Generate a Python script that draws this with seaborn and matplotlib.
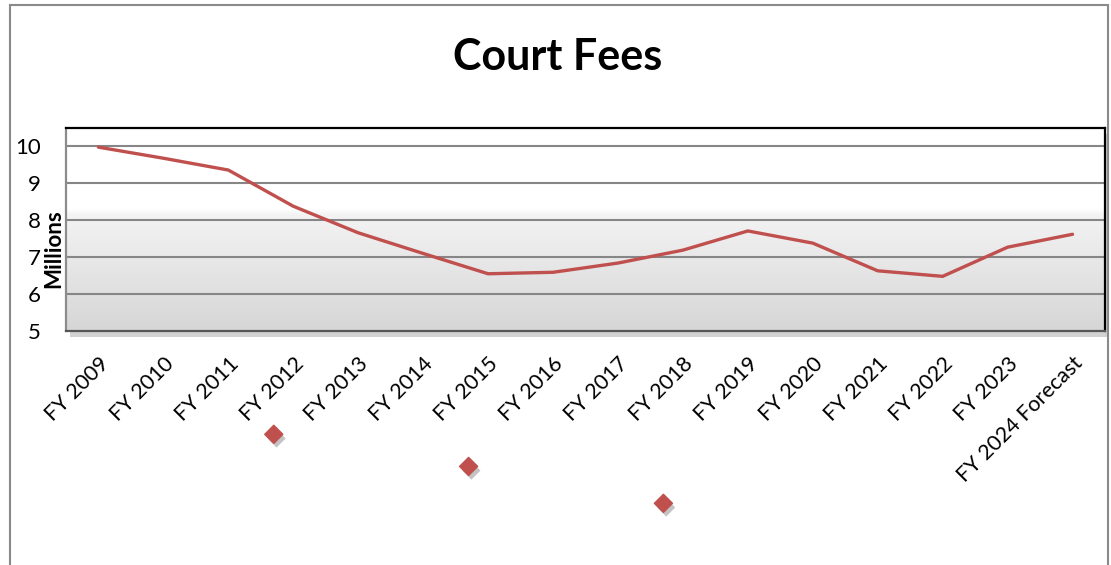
import numpy as np
import pandas as pd
import seaborn as sns
import matplotlib
matplotlib.use("Agg")
from matplotlib import pyplot as plt
from matplotlib import patheffects as pe
from matplotlib.colors import LinearSegmentedColormap
from matplotlib.patches import Rectangle

# datos
years = ["FY 2009", "FY 2010", "FY 2011", "FY 2012", "FY 2013", "FY 2014",
         "FY 2015", "FY 2016", "FY 2017", "FY 2018", "FY 2019", "FY 2020",
         "FY 2021", "FY 2022", "FY 2023", "FY 2024 Forecast"]
fees = [9.98, 9.68, 9.36, 8.38, 7.66, 7.10, 6.55, 6.59, 6.84, 7.19,
        7.71, 7.38, 6.63, 6.48, 7.27, 7.62]
# marcadores sueltos debajo del grafico
diamond_x = [2.7, 5.7, 8.7]
diamond_y = [2.2, 1.33, 0.33]
yticks = [5, 6, 7, 8, 9, 10]

red = "#C0504D"

sns.set_theme(style="white")
plt.rcParams['font.family'] = ['Lato', 'DejaVu Sans']
plt.rcParams['text.color'] = 'black'
plt.rcParams['axes.labelcolor'] = 'black'

df = pd.DataFrame({"pos": np.arange(len(years)), "fees": fees})

fig = plt.figure(figsize=(11.11, 5.65), dpi=100)
ax = fig.add_axes([0.0594, 0.4142, 0.9352, 0.3593])

# fondo degradado
cmap = LinearSegmentedColormap.from_list(
    "bg", [(0, "#d6d6d6"), (0.57, "#f3f3f3"), (0.6, "#ffffff"), (1, "#ffffff")])
grad = np.linspace(1, 0, 256).reshape(-1, 1)
ax.imshow(grad, cmap=cmap, vmin=0, vmax=1, aspect="auto",
          extent=[0, 1, 0, 1], transform=ax.transAxes, zorder=0)
ax.patch.set_path_effects([pe.SimplePatchShadow(offset=(3, -4), shadow_rgbFace="#999999", alpha=0.45),
                           pe.Normal()])

sns.lineplot(data=df, x="pos", y="fees", ax=ax, color=red, linewidth=2.4, zorder=3)

ax.scatter(diamond_x, diamond_y, marker="D", s=85, color=red, clip_on=False, zorder=5,
           path_effects=[pe.SimplePatchShadow(offset=(2, -3), shadow_rgbFace="#888888", alpha=0.5),
                         pe.Normal()])

ax.set_xlim(-0.5, len(years) - 0.5)
ax.set_ylim(5, 10.5)
ax.set_yticks(yticks)
ax.set_yticklabels([str(v) for v in yticks], fontsize=16)
ax.set_xticks(np.arange(len(years)))
ax.set_xticklabels(years, fontsize=15.5, rotation=45, ha="right", va="top",
                   rotation_mode="anchor")
ax.tick_params(axis="both", length=0, colors="black")
ax.tick_params(axis="y", pad=18)
ax.tick_params(axis="x", pad=16)

for v in yticks[1:]:
    ax.axhline(v, color="#868686", linewidth=1.5, zorder=2)

ax.spines["top"].set_color("black")
ax.spines["right"].set_color("black")
ax.spines["bottom"].set_color("#555555")
ax.spines["left"].set_color("#8c8c8c")
for s in ax.spines.values():
    s.set_linewidth(1.6)
    s.set_visible(True)

ax.set_xlabel("")
ax.set_ylabel("Millions", fontsize=16, fontweight="bold")
ax.yaxis.set_label_coords(-0.002, 0.404)

fig.text(0.502, 0.9, "Court Fees", fontsize=31, fontweight="bold",
         ha="center", va="center")

# borde exterior
fig.patches.append(Rectangle((10 / 1111, -0.05), 1098 / 1111, 1.05 - 5 / 565,
                             transform=fig.transFigure, fill=False,
                             edgecolor="#8a8a8a", linewidth=1.5))

fig.savefig("out.png", dpi=100)
